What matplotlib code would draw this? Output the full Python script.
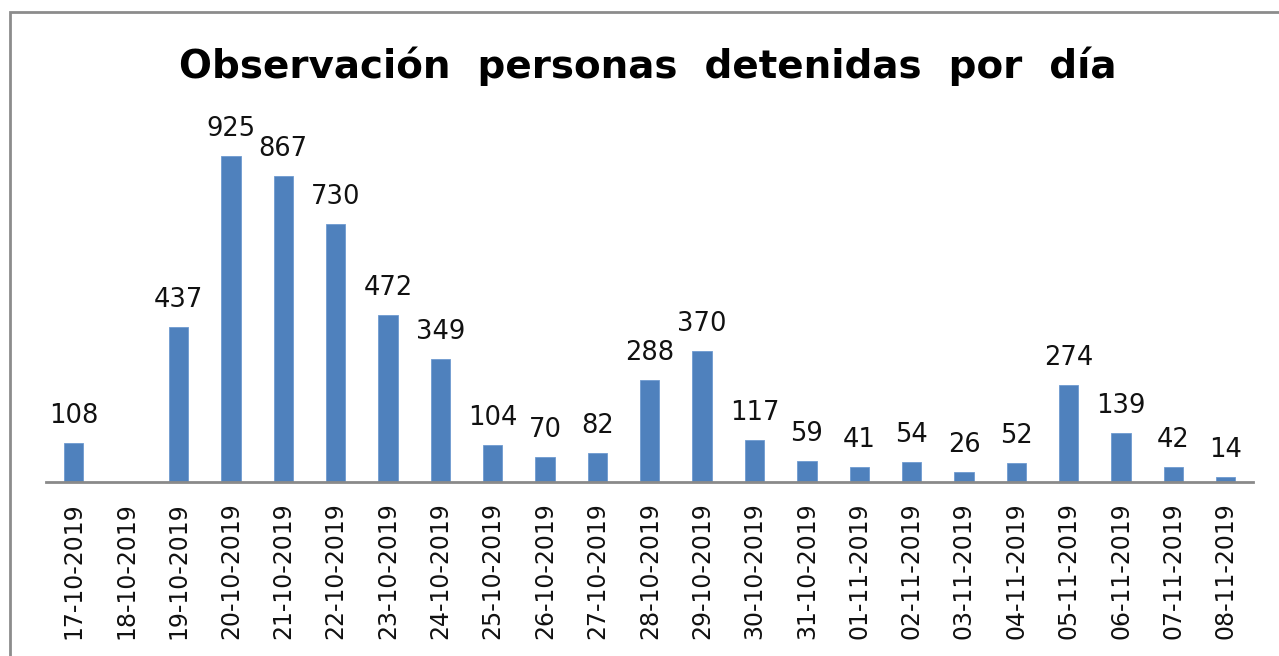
import numpy as np
import matplotlib.pyplot as plt
from matplotlib.patches import Rectangle

fechas = [
    "17-10-2019", "18-10-2019", "19-10-2019", "20-10-2019", "21-10-2019",
    "22-10-2019", "23-10-2019", "24-10-2019", "25-10-2019", "26-10-2019",
    "27-10-2019", "28-10-2019", "29-10-2019", "30-10-2019", "31-10-2019",
    "01-11-2019", "02-11-2019", "03-11-2019", "04-11-2019", "05-11-2019",
    "06-11-2019", "07-11-2019", "08-11-2019",
]
detenidos = [
    108, None, 437, 925, 867, 730, 472, 349, 104, 70, 82, 288,
    370, 117, 59, 41, 54, 26, 52, 274, 139, 42, 14,
]

W, H = 1279, 656
fig = plt.figure(figsize=(W / 100, H / 100), dpi=100)

# chart frame (only top and left edges show in the picture)
fig.patches.append(Rectangle(
    (10 / W, -0.1), 1.2, (H - 12) / H + 0.1,
    transform=fig.transFigure, fill=False,
    edgecolor="#8c8c8c", linewidth=2
))

ax_left, ax_right = 46 / W, 1253 / W
ax_bottom = (H - 481.5) / H
ax_top = (H - 100) / H
ax = fig.add_axes([ax_left, ax_bottom, ax_right - ax_left, ax_top - ax_bottom])

x = np.arange(len(fechas))
vals = np.array([np.nan if v is None else v for v in detenidos], dtype=float)

ax.bar(x, np.nan_to_num(vals), width=0.37, color="#4F81BD",
       edgecolor="#6f9bd0", linewidth=0.6, zorder=2)

for xi, v in zip(x, detenidos):
    if v is None:
        continue
    ax.annotate(str(v), (xi, v), xytext=(0, 14.4), textcoords="offset points",
                ha="center", va="baseline", fontsize=18.5, color="#111111")

ax.set_xlim(-0.53, len(fechas) - 1 + 0.52)
ax.set_ylim(0, 925 * (481.5 - 100) / 326)

ax.set_xticks(x)
ax.set_xticklabels(fechas, rotation=90, fontsize=17, color="#111111")
ax.tick_params(axis="x", length=0, pad=15)
ax.set_yticks([])

for s in ["top", "right", "left"]:
    ax.spines[s].set_visible(False)
ax.spines["bottom"].set_color("#8a8a8a")
ax.spines["bottom"].set_linewidth(2)

fig.text(648 / W, (H - 66) / H, "Observación  personas  detenidas  por  día",
         ha="center", va="center", fontsize=28, fontweight="bold", color="#000000")

fig.savefig("out.png", dpi=100)
